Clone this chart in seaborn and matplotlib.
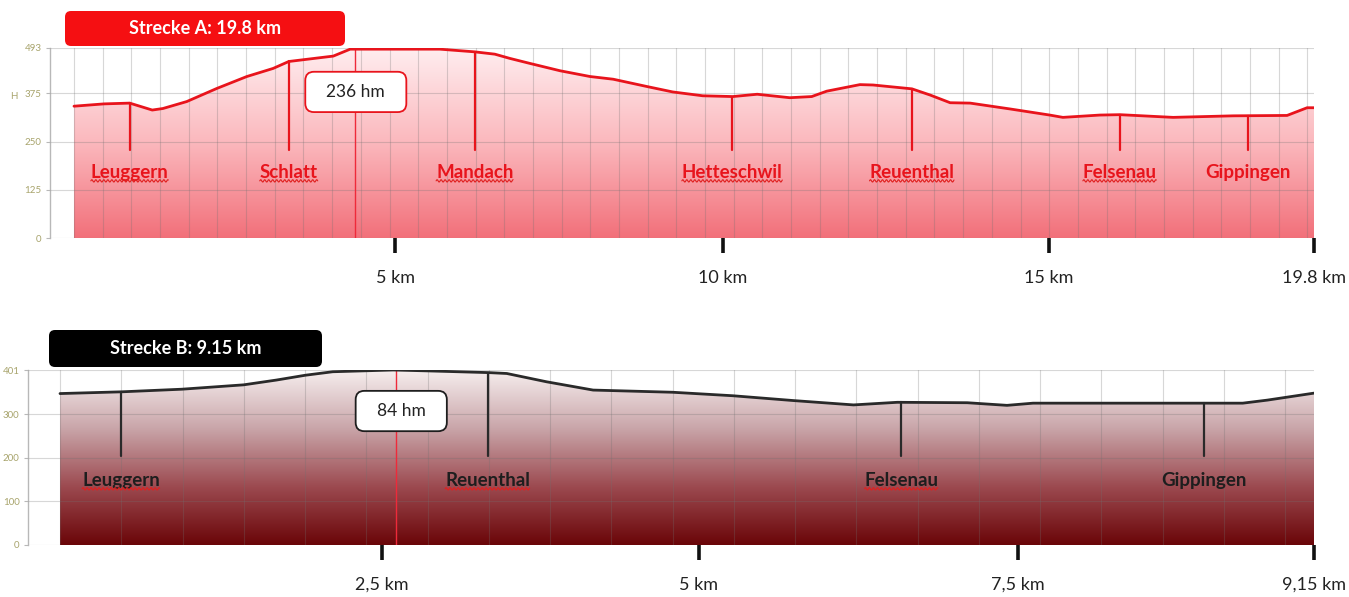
import numpy as np
import matplotlib
matplotlib.use("Agg")
import matplotlib.pyplot as plt
import seaborn as sns
import pandas as pd
from matplotlib.colors import LinearSegmentedColormap
from matplotlib.patches import FancyBboxPatch
from matplotlib.lines import Line2D
from matplotlib.ticker import MultipleLocator
from matplotlib.transforms import IdentityTransform

# Strecke A: Hoehenprofil (km, m)
km_a = [0.0, 0.48, 0.89, 1.05, 1.25, 1.42, 1.80, 2.28, 2.76, 3.18, 3.43, 4.14, 4.41, 4.58,
        5.84, 6.40, 6.72, 6.96, 7.28, 7.76, 8.24, 8.61, 9.15, 9.56, 10.04, 10.52, 10.91,
        11.43, 11.78, 12.02, 12.55, 12.76, 13.38, 13.67, 13.99, 14.31, 14.94, 15.58, 15.79,
        16.38, 16.70, 17.55, 18.51, 19.37, 19.69, 19.80]
hoehe_a = [342, 348, 350, 342, 332, 336, 354, 388, 419, 440, 458, 472, 490, 490,
           490, 483, 477, 466, 453, 434, 419, 412, 393, 379, 369, 367, 373,
           364, 367, 381, 398, 397, 387, 371, 351, 350, 335, 319, 313,
           319, 320, 313, 317, 318, 338, 338]
orte_a = ["Leuggern", "Schlatt", "Mandach", "Hetteschwil", "Reuenthal", "Felsenau", "Gippingen"]
orte_km_a = [0.89, 3.43, 6.40, 10.51, 13.38, 16.70, 18.75]
squiggle_a = [True, True, True, True, True, True, False]
ticks_a = [5.13, 10.36, 15.57, 19.8]
ticklabels_a = ["5 km", "10 km", "15 km", "19.8 km"]
yticks_a = [0, 125, 250, 375, 493]
cursor_a = 4.49
hm_a = "236 hm"

# Strecke B
km_b = [0.0, 0.45, 0.89, 1.34, 1.58, 1.79, 1.99, 2.43, 2.68, 3.13, 3.26, 3.55, 3.89,
        4.47, 4.91, 5.35, 5.79, 6.11, 6.62, 6.91, 7.10, 8.32, 8.63, 8.81, 9.15]
hoehe_b = [347, 351, 357, 367, 378, 389, 397, 401, 399, 395, 393, 374, 355,
           350, 342, 331, 321, 327, 326, 320, 325, 325, 325, 332, 348]
orte_b = ["Leuggern", "Reuenthal", "Felsenau", "Gippingen"]
orte_km_b = [0.445, 3.12, 6.14, 8.35]
squiggle_b = [True, True, True, False]
ticks_b = [2.35, 4.66, 6.99, 9.15]
ticklabels_b = ["2,5 km", "5 km", "7,5 km", "9,15 km"]
yticks_b = [0, 100, 200, 300, 401]
cursor_b = 2.45
hm_b = "84 hm"

sns.set_theme(style="white")
plt.rcParams["font.family"] = ["Lato", "DejaVu Sans"]

W, H = 1349, 597
fig = plt.figure(figsize=(W / 100, H / 100), dpi=100)


def px_axes(x0, x1, ytop, ybot):
    return fig.add_axes([x0 / W, 1 - ybot / H, (x1 - x0) / W, (ybot - ytop) / H])


ax_a = px_axes(50, 1314, 48, 238)
ax_b = px_axes(28, 1314, 370, 545)

cmap_a = LinearSegmentedColormap.from_list("a", ["#f2707a", "#fbb8bd", "#ffeef0"])
cmap_b = LinearSegmentedColormap.from_list("b", ["#6a0508", "#9c4a50", "#c9a5a9", "#f6eeee"])

squiggles = []


def profil(ax, km, hoehe, xmin, ymax, line_color, cmap, orte, orte_km, squig,
           label_color, mark_bot, text_y, ticks, ticklabels, yticks,
           cursor, hm, hm_pos, hm_edge, grid_step):
    df = pd.DataFrame({"km": km, "hoehe": hoehe})
    xmax = km[-1]

    # gradient fill under the profile
    poly = ax.fill_between(df["km"], df["hoehe"], 0, color="none", lw=0)
    grad = np.linspace(0, 1, 256).reshape(-1, 1)
    im = ax.imshow(grad, cmap=cmap, origin="lower", aspect="auto",
                   extent=[0, xmax, 0, ymax], zorder=1)
    im.set_clip_path(poly.get_paths()[0], transform=ax.transData)
    ax.set_xlim(xmin, xmax)
    ax.set_ylim(0, ymax)

    # grid
    ax.set_axisbelow(False)
    ax.xaxis.set_minor_locator(MultipleLocator(grid_step))
    ax.grid(False)
    ax.grid(True, which="minor", axis="x", color="#707070", alpha=0.28, lw=0.8, zorder=2)
    ax.grid(True, which="major", axis="y", color="#707070", alpha=0.28, lw=0.8, zorder=2)

    sns.lineplot(data=df, x="km", y="hoehe", ax=ax, color=line_color, lw=2, zorder=4)

    # cursor line
    ax.axvline(cursor, color="#ee2a3a", lw=1, zorder=3)

    # towns
    for name, k, s in zip(orte, orte_km, squig):
        top = np.interp(k, km, hoehe)
        ax.plot([k, k], [top, mark_bot], color=line_color, lw=1.6, zorder=4)
        t = ax.text(k, text_y, name, color=label_color, fontsize=13.5, fontweight="bold",
                    ha="center", va="center", zorder=5)
        if s:
            squiggles.append(t)

    ax.text(hm_pos[0], hm_pos[1], "  " + hm + "  ", fontsize=12.5, color="#222222",
            ha="center", va="center", zorder=6,
            bbox=dict(boxstyle="round,pad=0.7,rounding_size=0.5", fc="white",
                      ec=hm_edge, lw=1.3))

    # axes styling
    for side in ["top", "right", "bottom"]:
        ax.spines[side].set_visible(False)
    ax.spines["left"].set_color("#b8b8b8")
    ax.spines["left"].set_linewidth(1)
    ax.set_yticks(yticks)
    ax.tick_params(axis="y", which="major", left=True, length=3, width=0.8,
                   color="#b8b8b8", labelsize=7, labelcolor="#a8a46c", pad=3)
    ax.set_xticks(ticks, ticklabels)
    ax.tick_params(axis="x", which="major", bottom=True, direction="out", length=11,
                   width=2.6, color="#111111", labelsize=13, labelcolor="#222222", pad=12)
    ax.tick_params(axis="x", which="minor", length=0)
    ax.set_xlabel("")
    ax.set_ylabel("")


profil(ax_a, km_a, hoehe_a, -0.383, 493, "#e8141c", cmap_a, orte_a, orte_km_a, squiggle_a,
       "#e8141c", 228, 169, ticks_a, ticklabels_a, yticks_a, cursor_a, hm_a,
       (4.50, 379), "#e8141c", 0.458)
profil(ax_b, km_b, hoehe_b, -0.2335, 401, "#2a2a2a", cmap_b, orte_b, orte_km_b, squiggle_b,
       "#1e1e1e", 204, 147, ticks_b, ticklabels_b, yticks_b, cursor_b, hm_b,
       (2.49, 307), "#1e1e1e", 0.447)

ax_a.set_ylabel("H", rotation=0, fontsize=7, color="#a8a46c")
ax_a.yaxis.set_label_coords(-0.029, 0.72)


# title boxes (pixel coordinates)
def title_box(x0, x1, ytop, ybot, color, text):
    box = FancyBboxPatch((x0, H - ybot), x1 - x0, ybot - ytop,
                         boxstyle="round,pad=0,rounding_size=6", fc=color, ec="none",
                         transform=IdentityTransform())
    fig.add_artist(box)
    fig.text((x0 + x1) / 2 / W, 1 - (ytop + ybot) / 2 / H, text, color="white",
             fontsize=13, fontweight="bold", ha="center", va="center")


title_box(65, 345, 11, 46, "#f50f12", "Strecke A: 19.8 km")
title_box(49, 322, 330, 367, "#000000", "Strecke B: 9.15 km")

# spell-check style wavy underline under town names
fig.canvas.draw()
r = fig.canvas.get_renderer()
for t in squiggles:
    bb = t.get_window_extent(r)
    xs = np.arange(bb.x0, bb.x1, 0.5)
    ys = bb.y0 + 0.5 + 1.2 * np.sin((xs - bb.x0) * np.pi / 2)
    fig.add_artist(Line2D(xs, ys, color="#e02020", lw=0.8, transform=IdentityTransform()))

fig.savefig("out.png", dpi=100)
